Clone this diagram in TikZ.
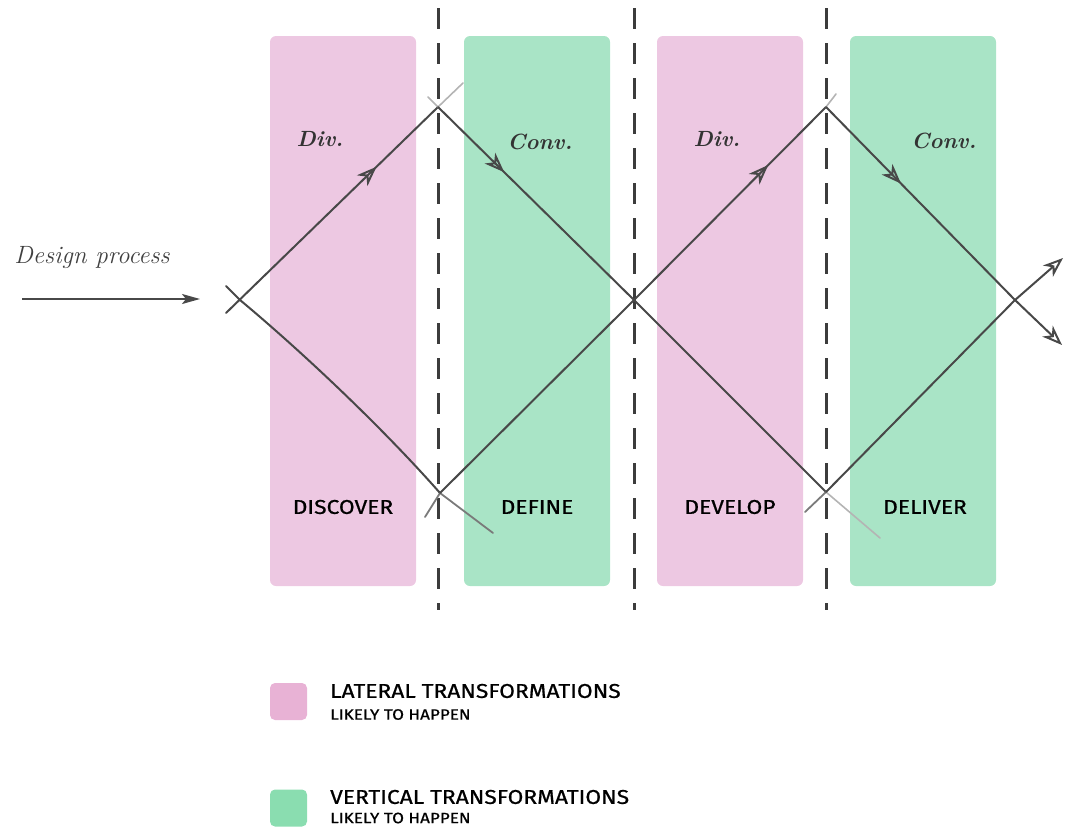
\documentclass[tikz,border=0pt]{standalone}
\usepackage{fontspec}
\newfontfamily\capsfont[FakeStretch=1.14, FakeBold=0.8]{Fira Sans}
\usetikzlibrary{arrows.meta,decorations.markings}

\definecolor{pinkbg}{HTML}{EDC8E2}
\definecolor{greenbg}{HTML}{A9E4C6}
\definecolor{pinkkey}{HTML}{E8B2D5}
\definecolor{greenkey}{HTML}{8ADDB0}
\definecolor{ink}{HTML}{484848}
\definecolor{inkmid}{HTML}{7A7A7A}
\definecolor{inkfaint}{HTML}{B4B4B4}
\definecolor{divider}{HTML}{3C3C3C}

\tikzset{
  phase/.style={draw=none, rounded corners=6pt, minimum width=146pt, minimum height=550pt, inner sep=0pt},
  keybox/.style={draw=none, rounded corners=5pt, minimum size=37pt, inner sep=0pt},
  stage/.style={font=\capsfont\fontsize{20}{22}\selectfont, text=black, inner sep=0pt},
  mode/.style={font=\bfseries\itshape\fontsize{22}{24}\selectfont, text=black!80, inner sep=0pt},
  keytitle/.style={font=\capsfont\fontsize{20}{22}\selectfont, anchor=west, inner sep=0pt},
  keynote/.style={font=\capsfont\fontsize{15}{17}\selectfont, anchor=west, inner sep=0pt},
  sepline/.style={draw=divider, line width=3pt, dash pattern=on 21pt off 14pt},
  flow/.style={draw=ink, line width=2pt, line cap=round},
  tailmid/.style={draw=inkmid, line width=1.8pt, line cap=round},
  tailfaint/.style={draw=inkfaint, line width=1.6pt, line cap=round},
  endtip/.style={-{Stealth[open, length=20pt, width=15pt, inset=6pt, line width=2pt]}},
  midtip/.style={postaction={decorate}, decoration={markings,
      mark=at position #1 with {\arrow{Stealth[open, length=20pt, width=15pt, inset=6pt, line width=2pt]}}}},
}

\begin{document}
\begin{tikzpicture}[x=1pt, y=-1pt]
  \useasboundingbox (0,0) rectangle (1067,827);

  % phase columns
  \node[phase, fill=pinkbg]  (discover) at (343,311) {};
  \node[phase, fill=greenbg] (define)   at (537,311) {};
  \node[phase, fill=pinkbg]  (develop)  at (730,311) {};
  \node[phase, fill=greenbg] (deliver)  at (923,311) {};

  % dashed separators between the phases
  \coordinate (s1t) at (438,8);  \coordinate (s1b) at (438,610);
  \coordinate (s2t) at (634,8);  \coordinate (s2b) at (634,610);
  \coordinate (s3t) at (826,8);  \coordinate (s3b) at (826,610);
  \draw[sepline] (s1t) -- (s1b);
  \draw[sepline] (s2t) -- (s2b);
  \draw[sepline] (s3t) -- (s3b);

  % crossing points of the double diamond
  \coordinate (x0) at (240,300);
  \coordinate (a1) at (226,313);
  \coordinate (b1) at (226,286);
  \coordinate (p1) at (438,107);
  \coordinate (q1) at (440,493);
  \coordinate (m)  at (634,300);
  \coordinate (p2) at (826,107);
  \coordinate (q2) at (826,492);
  \coordinate (x3) at (1015,300);
  \coordinate (endup)   at (1063,258);
  \coordinate (enddown) at (1062,345);

  % loose ends of the strokes
  \coordinate (p1e) at (463,83);
  \coordinate (p1s) at (428,97);
  \coordinate (q2e) at (880,538);
  \coordinate (q1e) at (493,533);
  \coordinate (q1s) at (425,517);
  \coordinate (p2e) at (836,94);
  \coordinate (q2s) at (805,512);

  % first diamond
  \draw[flow, midtip=0.71] (a1) -- (p1);
  \draw[tailfaint] (p1) -- (p1e);
  \draw[tailfaint] (p1s) -- (p1);
  \draw[flow, midtip=0.17] (p1) -- (m) -- (q2);
  \draw[tailfaint] (q2) -- (q2e);
  \draw[flow] (b1) -- (x0) .. controls (300,350) and (380,425) .. (q1);
  \draw[tailmid] (q1) -- (q1e);

  % second diamond
  \draw[tailmid] (q1s) -- (q1);
  \draw[flow, midtip=0.85] (q1) -- (m) -- (p2);
  \draw[tailfaint] (p2) -- (p2e);
  \draw[flow, midtip=0.32, endtip] (p2) -- (x3) -- (enddown);
  \draw[tailmid] (q2s) -- (q2);
  \draw[flow, endtip] (q2) -- (x3) -- (endup);

  % entry arrow
  \node[font=\itshape\fontsize{25}{27}\selectfont, text=black!75, inner sep=0pt] (title) at (92,258) {Design process};
  \coordinate (inS) at (22,299);
  \coordinate (inE) at (200,299);
  \draw[draw=ink, line width=2pt, -{Stealth[length=18pt, width=10pt, inset=4pt]}] (inS) -- (inE);

  % divergence / convergence marks
  \node[mode] (div1)  at (320,139) {Div.};
  \node[mode] (conv1) at (540,142) {Conv.};
  \node[mode] (div2)  at (717,139) {Div.};
  \node[mode] (conv2) at (944,141) {Conv.};

  % phase names
  \node[stage] (l1) at (343,507) {DISCOVER};
  \node[stage] (l2) at (537,507) {DEFINE};
  \node[stage] (l3) at (730,507) {DEVELOP};
  \node[stage] (l4) at (925,507) {DELIVER};

  % key
  \node[keybox, fill=pinkkey]  (k1) at (288.5,701.5) {};
  \node[keybox, fill=greenkey] (k2) at (288.5,808) {};
  \node[keytitle] (k1t) at (330,691) {LATERAL TRANSFORMATIONS};
  \node[keynote]  (k1n) at (330,714.5) {LIKELY TO HAPPEN};
  \node[keytitle] (k2t) at (330,797) {VERTICAL TRANSFORMATIONS};
  \node[keynote]  (k2n) at (330,818) {LIKELY TO HAPPEN};
\end{tikzpicture}
\end{document}
